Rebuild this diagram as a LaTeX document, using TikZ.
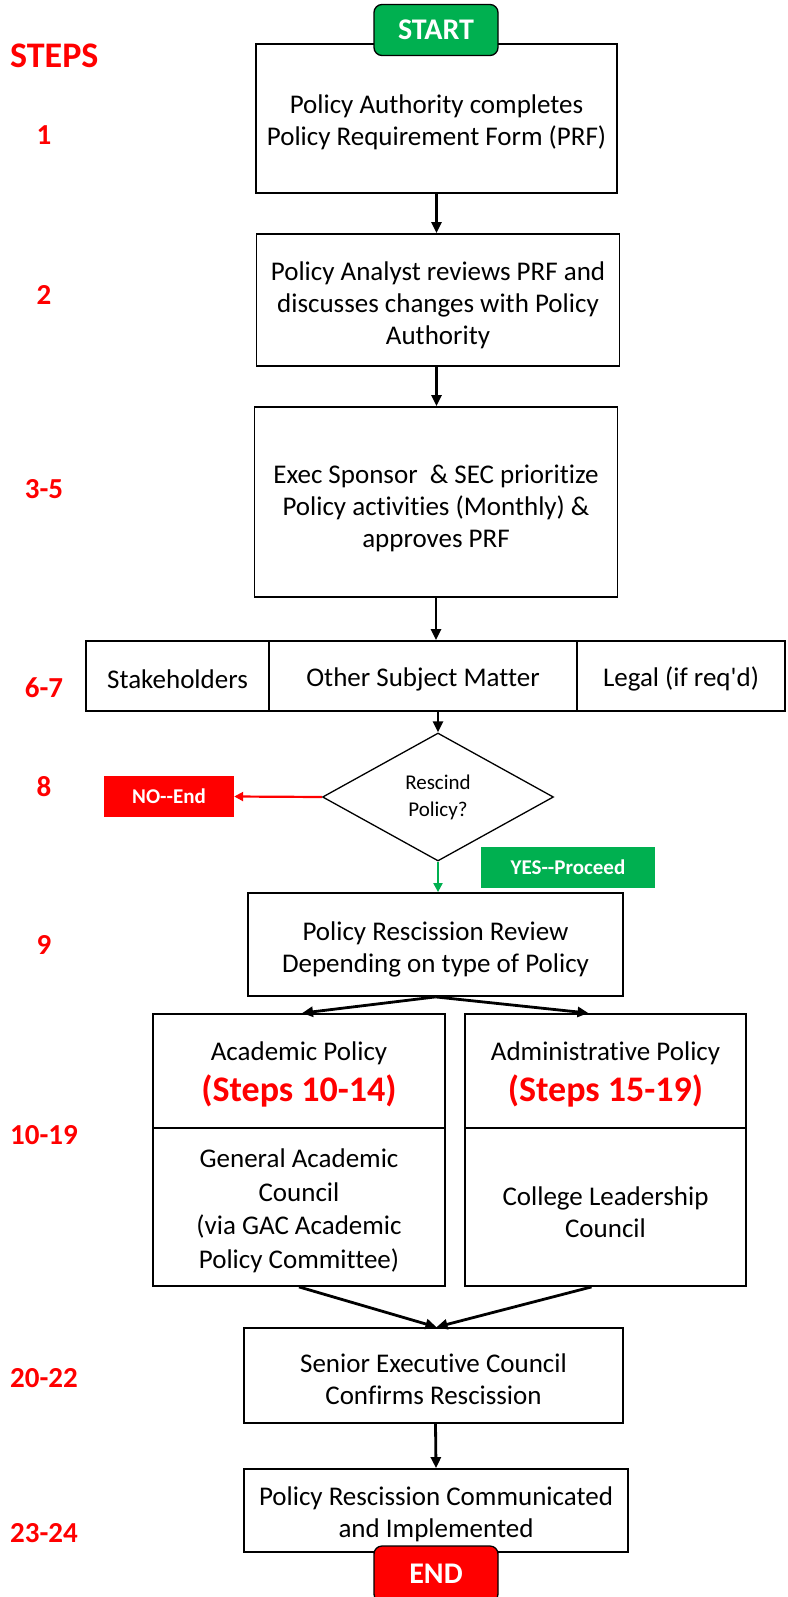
\documentclass[tikz,border=0pt]{standalone}
\usepackage{fontspec}
\setmainfont{Carlito}[Ligatures={TeXOff,CommonOff}]
\usetikzlibrary{shapes.geometric,arrows.meta,calc}
\definecolor{pgreen}{HTML}{00B050}
\definecolor{pred}{HTML}{FF0000}
\begin{document}
\begin{tikzpicture}[x=1pt,y=-1pt,
  box/.style={draw=black, line width=1.8pt, rectangle, inner sep=0pt},
  txt/.style={inner sep=0pt, align=center, font=\fontsize{27}{32}\selectfont},
  redbig/.style={text=pred, font=\bfseries\fontsize{36}{38}\selectfont},
  stepno/.style={text=pred, font=\bfseries\fontsize{29}{32}\selectfont, inner sep=0pt},
  arr/.style={line width=2.8pt, -{Triangle[length=11pt,width=10pt]}},
  term/.style={draw=black, line width=1.3pt, rounded corners=8pt, text=white, font=\bfseries\fontsize{30}{32}\selectfont, inner sep=0pt},
  tag/.style={text=white, font=\bfseries\fontsize{21}{25}\selectfont, inner sep=0pt},
]
\useasboundingbox (0,0) rectangle (787,1597);

% step labels
\node[text=pred, font=\bfseries\fontsize{36}{40}\selectfont, inner sep=0pt, anchor=west] (sSTEPS) at (10,56) {STEPS};
\node[stepno] (s1) at (44,135) {1};
\node[stepno] (s2) at (44,295) {2};
\node[stepno] (s3) at (44,489) {3-5};
\node[stepno] (s6) at (44,688) {6-7};
\node[stepno] (s8) at (44,787) {8};
\node[stepno] (s9) at (44,945) {9};
\node[stepno] (s10) at (44,1135) {10-19};
\node[stepno] (s20) at (44,1378) {20-22};
\node[stepno] (s23) at (44,1533) {23-24};

% main boxes
\node[box, minimum width=361pt, minimum height=149pt] (b1) at (436.5,118.5) {};
\node[txt] (b1t) at ([yshift=-4pt]b1.center) {Policy Authority completes\\Policy Requirement Form (PRF)};
\node[term, fill=pgreen, minimum width=124pt, minimum height=51pt] (start) at (436,30) {START};
\node[box, minimum width=363pt, minimum height=132pt] (b2) at (438,300) {};
\node[txt] (b2t) at ([yshift=-5pt]b2.center) {Policy Analyst reviews PRF and\\discusses changes with Policy\\Authority};
\node[box, minimum width=363pt, minimum height=190pt] (b3) at (436,502) {};
\node[txt] (b3t) at ([yshift=-6pt]b3.center) {Exec Sponsor~ \& SEC prioritize\\Policy activities (Monthly) \&\\approves PRF};

\node[box, minimum width=183pt, minimum height=70pt] (stake) at (177.5,676) {};
\node[txt] (staket) at ([yshift=-3pt]stake.center) {Stakeholders};
\node[box, minimum width=308pt, minimum height=70pt] (other) at (423,676) {};
\node[txt] (othert) at ([yshift=-3pt]other.center) {Other Subject Matter};
\node[box, minimum width=208pt, minimum height=70pt] (legal) at (681,676) {};
\node[txt] (legalt) at ([yshift=-3pt]legal.center) {Legal (if req'd)};

\node[draw=black, line width=1.3pt, shape=diamond, minimum width=231pt, minimum height=128pt, inner sep=0pt, align=center, font=\fontsize{21}{27}\selectfont] (d) at (438,797) {Rescind\\Policy?};
\node[tag, fill=pred, minimum width=130pt, minimum height=41pt] (no) at (169,796.5) {NO--End};
\node[tag, fill=pgreen, minimum width=174pt, minimum height=41pt] (yes) at (568,867.5) {YES--Proceed};

\node[box, minimum width=375pt, minimum height=103pt] (b9) at (435.5,944.5) {};
\node[txt] (b9t) at ([yshift=-5pt]b9.center) {Policy Rescission Review\\Depending on type of Policy};

\node[box, minimum width=292pt, minimum height=114pt] (acadtop) at (299,1071) {};
\node[txt] (acadtopt) at ([yshift=-3pt]acadtop.center) {Academic Policy\\[9pt]{\color{pred}\bfseries\fontsize{36}{38}\selectfont (Steps 10-14)}};
\node[box, minimum width=292pt, minimum height=158pt] (acadbot) at (299,1207) {};
\node[txt, font=\fontsize{27}{33.5}\selectfont] (acadbott) at ([yshift=-4pt]acadbot.center) {General Academic\\Council\\(via GAC Academic\\Policy Committee)};
\node[box, minimum width=281pt, minimum height=114pt] (admtop) at (605.5,1071) {};
\node[txt] (admtopt) at ([yshift=-3pt]admtop.center) {Administrative Policy\\[9pt]{\color{pred}\bfseries\fontsize{36}{38}\selectfont (Steps 15-19)}};
\node[box, minimum width=281pt, minimum height=158pt] (admbot) at (605.5,1207) {};
\node[txt] (admbott) at ([yshift=-5pt]admbot.center) {College Leadership\\Council};

\node[box, minimum width=379pt, minimum height=95pt] (sec) at (433.5,1375.5) {};
\node[txt] (sect) at ([yshift=-4pt]sec.center) {Senior Executive Council\\Confirms Rescission};
\node[box, minimum width=384pt, minimum height=83pt] (fin) at (436,1510.5) {};
\node[txt] (fint) at ([yshift=-4pt]fin.center) {Policy Rescission Communicated\\and Implemented};
\node[term, fill=pred, minimum width=124pt, minimum height=56pt] (end) at (436,1574) {END};

% connectors
\draw[arr] (b1.south) -- (b2.north -| b1.south);
\draw[arr] (b2.south -| b1.south) -- (b3.north -| b1.south);
\draw[arr] (b3.south) -- (b3.south |- other.north);
\draw[arr] (d.north |- other.south) -- (d.north);
\draw[line width=2.2pt, pred, -{Triangle[length=9pt,width=9pt]}] (d.west) -- (no.east);
\draw[line width=2pt, pgreen, -{Triangle[length=9pt,width=9pt]}] (d.south) -- (d.south |- b9.north);
\draw[arr] (b9.south) -- ($(acadtop.north)+(3,0)$);
\draw[arr] (b9.south) -- ($(admtop.north)+(-17,0)$);
\draw[arr] (acadbot.south) -- ($(sec.north)+(3,0)$);
\draw[arr] ($(admbot.south)+(-14,0)$) -- ($(sec.north)+(3,0)$);
\draw[arr] ($(sec.south)+(2,0)$) -- ($(fin.north)+(0,0)$);
\end{tikzpicture}
\end{document}
